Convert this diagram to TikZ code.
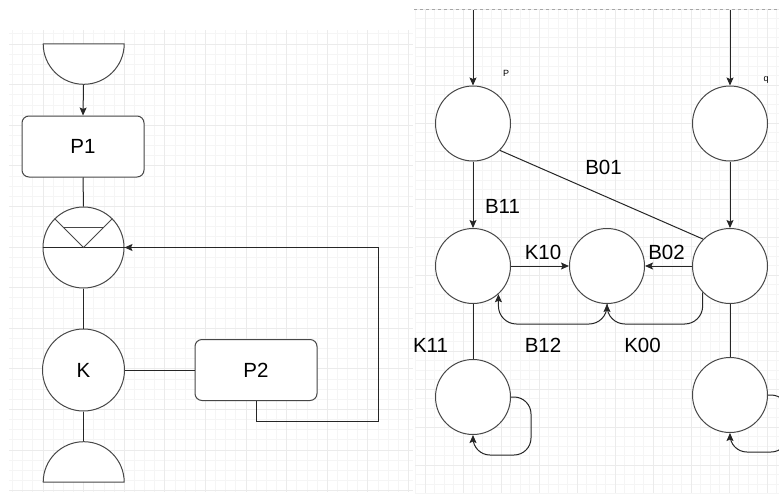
\documentclass[tikz,border=0pt]{standalone}
\usepackage{fontspec}
\setmainfont{Liberation Sans}
\usetikzlibrary{arrows.meta,calc}
\begin{document}
\begin{tikzpicture}[x=1pt,y=-1pt,
  minorgrid/.style={draw=black!4, line width=0.8pt},
  majorgrid/.style={draw=black!8, line width=0.8pt},
  outl/.style={draw=black!72, line width=1pt, fill=white},
  conn/.style={draw=black!85, line width=1pt},
  arr/.style={conn, -{Stealth[length=8pt,width=7pt,inset=1.5pt]}},
  proc/.style={outl, rounded corners=7pt, minimum width=122pt, minimum height=61pt,
    inner sep=0pt, font=\fontsize{20.5}{24}\selectfont},
  vtx/.style={outl, circle, minimum size=75pt, inner sep=0pt},
  lbl/.style={font=\fontsize{20.5}{24}\selectfont, inner sep=0pt},
  smalllbl/.style={font=\fontsize{9}{10}\selectfont, inner sep=0pt},
  halfdisc/.style={minimum width=81pt, minimum height=41pt, inner sep=0pt}
]
\useasboundingbox[fill=white] (0,0) rectangle (779,493);
\begin{scope}
\clip (0,0) rectangle (779,493);

% ---------- background grids ----------
\foreach \i in {-3,...,36} \draw[minorgrid] ({43+\i*10.15},30) -- ({43+\i*10.15},492);
\foreach \j in {-1,...,44} \draw[minorgrid] (9,{44+\j*10.15}) -- (413,{44+\j*10.15});
\foreach \i in {0,...,9} \draw[majorgrid] ({43+\i*40.6},30) -- ({43+\i*40.6},492);
\foreach \j in {0,...,11} \draw[majorgrid] (9,{44+\j*40.6}) -- (413,{44+\j*40.6});

\foreach \i in {-1,...,37} \draw[minorgrid] ({425+\i*9.5},9) -- ({425+\i*9.5},493);
\foreach \j in {0,...,51} \draw[minorgrid] (415,{9+\j*9.5}) -- (779,{9+\j*9.5});
\foreach \i in {0,...,9} \draw[majorgrid] ({425+\i*38},9) -- ({425+\i*38},493);
\foreach \j in {0,...,12} \draw[majorgrid] (415,{9+\j*38}) -- (779,{9+\j*38});
\draw[black!35, dashed, line width=0.8pt] (414,9) -- (779,9);

% ---------- flowchart ----------
\node[halfdisc] (start) at (83.5,64.5) {};
\draw[outl] (start.north west) -- (start.north east) arc[start angle=0, end angle=180, radius=40.5] -- cycle;

\node[proc] (p1) at (83,146.5) {P1};

\node[outl, circle, minimum size=81pt, inner sep=0pt] (mrg) at (83.5,247.5) {};
\draw[conn] (mrg.west) -- (mrg.east);
\draw[outl, fill=none] (mrg.135) -- (mrg.center) -- (mrg.45);
\draw[outl, fill=none] ($(mrg.center)+(-20.5,-20.5)$) -- ($(mrg.center)+(20.5,-20.5)$);

\node[outl, circle, minimum size=82pt, inner sep=0pt, font=\fontsize{20.5}{24}\selectfont] (k) at (83.5,370) {K};

\node[proc] (p2) at (256,370) {P2};

\node[halfdisc] (stop) at (83.5,461.5) {};
\draw[outl] (stop.south west) -- (stop.south east) arc[start angle=0, end angle=-180, radius=40.5] -- cycle;

\draw[arr] (start.south) -- (p1.north);
\draw[conn] (p1.south) -- (mrg.north);
\draw[conn] (mrg.south) -- (k.north);
\draw[conn] (k.east) -- (p2.west);
\draw[conn] (k.south) -- (stop.north);
\coordinate (fb) at (378,421);
\draw[arr] (p2.south) |- (fb) |- (mrg.east);

% ---------- state graph ----------
\node[vtx] (p) at (473,123.5) {};
\node[vtx] (q) at (730,123.5) {};
\node[vtx] (a) at (473,266) {};
\node[vtx] (b) at (607,266) {};
\node[vtx] (c) at (730,266) {};
\node[vtx] (d) at (473,397) {};
\node[vtx] (e) at (730,395) {};

\coordinate (pin) at (473,10);
\coordinate (qin) at (730,10);
\coordinate (low) at (0,324);
\coordinate (dl) at (531,455);
\coordinate (el) at (788,452);

\draw[arr] (pin) -- (p.north);
\draw[arr] (qin) -- (q.north);
\draw[arr] (p.south) -- (a.north);
\draw[arr] (q.south) -- (c.north);
\draw[conn] (p.-45) -- (c.135);
\draw[arr] (a.east) -- (b.west);
\draw[arr] (c.west) -- (b.east);
\draw[arr, rounded corners=18pt] (b.south) -- (b.south |- low) -| (a.-48);
\draw[arr, rounded corners=18pt] (c.-136) |- (b.south |- low) -- (b.south);
\draw[conn] (a.south) -- (d.north);
\draw[conn] (c.south) -- (e.north);
\draw[arr, rounded corners=17pt] (d.east) -| (dl) -| (d.south);
\draw[arr, rounded corners=17pt] (e.east) -| (el) -| (e.south);

\node[smalllbl] (lp) at (506,73) {P};
\node[smalllbl] (lq) at (766,80) {q};
\node[lbl] (lb11) at (502.5,206) {B11};
\node[lbl] (lb01) at (603.5,167.5) {B01};
\node[lbl] (lk10) at (543,252) {K10};
\node[lbl] (lb02) at (666.5,252) {B02};
\node[lbl] (lk11) at (430.5,345.5) {K11};
\node[lbl] (lb12) at (543,345.5) {B12};
\node[lbl] (lk00) at (642.5,345.5) {K00};
\end{scope}
\end{tikzpicture}
\end{document}
